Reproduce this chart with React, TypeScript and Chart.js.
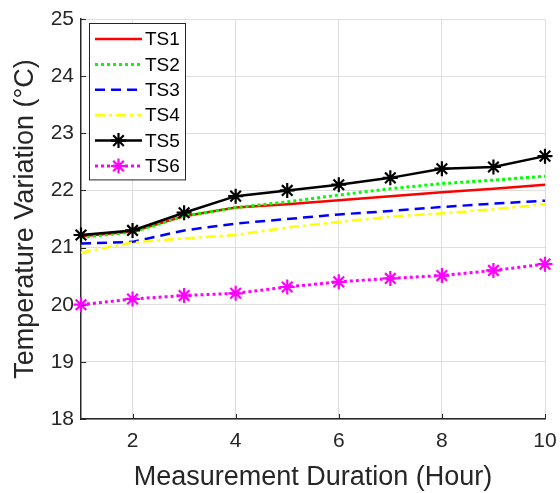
import { useEffect, useRef } from 'react';
import { Chart, registerables } from 'chart.js';

Chart.register(...registerables);

// Measurement hours and sensor temperatures (°C)
const hours = [1, 2, 3, 4, 5, 6, 7, 8, 9, 10];
const ts1 = [21.2, 21.28, 21.55, 21.7, 21.76, 21.83, 21.9, 21.97, 22.03, 22.1];
const ts2 = [21.18, 21.27, 21.55, 21.7, 21.8, 21.92, 22.03, 22.12, 22.18, 22.25];
const ts3 = [21.07, 21.1, 21.3, 21.42, 21.5, 21.58, 21.64, 21.71, 21.77, 21.82];
const ts4 = [20.91, 21.09, 21.16, 21.22, 21.35, 21.45, 21.54, 21.6, 21.67, 21.76];
const ts5 = [21.22, 21.3, 21.61, 21.9, 22.0, 22.1, 22.22, 22.38, 22.41, 22.6];
const ts6 = [20.0, 20.1, 20.16, 20.2, 20.31, 20.4, 20.46, 20.51, 20.6, 20.71];

const seriesLabels = ['TS1', 'TS2', 'TS3', 'TS4', 'TS5', 'TS6'];
const seriesValues = [ts1, ts2, ts3, ts4, ts5, ts6];

const xTickValues = [2, 4, 6, 8, 10];
const yTickValues = [18, 19, 20, 21, 22, 23, 24, 25];

const xTitle = 'Measurement Duration (Hour)';
const yTitle = 'Temperature Variation (°C)';

const FONT = '"Liberation Sans", Arial, Helvetica, sans-serif';
const INK = '#262626';
const GRID = '#dedede';

type SeriesStyle = { color: string; dash: number[]; width: number; marker: boolean };

const seriesStyles: SeriesStyle[] = [
  { color: '#ff0000', dash: [], width: 2.5, marker: false },
  { color: '#00ff00', dash: [3, 3], width: 3, marker: false },
  { color: '#0000ff', dash: [10, 6], width: 2.5, marker: false },
  { color: '#ffff00', dash: [10, 4, 3, 4], width: 2.5, marker: false },
  { color: '#000000', dash: [], width: 2.5, marker: true },
  { color: '#ff00ff', dash: [3, 3], width: 3, marker: true },
];

function drawStar(ctx: CanvasRenderingContext2D, x: number, y: number, r: number, color: string) {
  ctx.save();
  ctx.setLineDash([]);
  ctx.strokeStyle = color;
  ctx.lineWidth = 2.2;
  ctx.beginPath();
  for (let k = 0; k < 4; k++) {
    const a = (k * Math.PI) / 4;
    ctx.moveTo(x - r * Math.cos(a), y - r * Math.sin(a));
    ctx.lineTo(x + r * Math.cos(a), y + r * Math.sin(a));
  }
  ctx.stroke();
  ctx.restore();
}

// Short tick marks pointing into the plot area
const innerTicks = {
  id: 'innerTicks',
  afterDatasetsDraw(chart: any) {
    const { ctx, chartArea, scales } = chart;
    ctx.save();
    ctx.strokeStyle = INK;
    ctx.lineWidth = 1;
    ctx.beginPath();
    xTickValues.forEach((v) => {
      const px = Math.round(scales.x.getPixelForValue(v)) + 0.5;
      ctx.moveTo(px, chartArea.bottom);
      ctx.lineTo(px, chartArea.bottom - 5);
    });
    yTickValues.forEach((v) => {
      const py = Math.round(scales.y.getPixelForValue(v)) + 0.5;
      ctx.moveTo(chartArea.left, py);
      ctx.lineTo(chartArea.left + 5, py);
    });
    ctx.stroke();
    ctx.restore();
  },
};

// Boxed legend in the upper-left corner of the plot
const boxLegend = {
  id: 'boxLegend',
  afterDraw(chart: any) {
    const { ctx, chartArea } = chart;
    const left = chartArea.left + 8;
    const top = chartArea.top + 4;
    const w = 96;
    const rowH = 25.4;
    const h = rowH * seriesLabels.length + 4;
    ctx.save();
    ctx.fillStyle = '#ffffff';
    ctx.fillRect(left, top, w, h);
    ctx.strokeStyle = INK;
    ctx.lineWidth = 1;
    ctx.strokeRect(Math.round(left) + 0.5, Math.round(top) + 0.5, w, h);
    seriesLabels.forEach((label, i) => {
      const st = seriesStyles[i];
      const cy = top + 16 + i * rowH;
      const x0 = left + 6;
      const x1 = left + 53;
      ctx.save();
      ctx.strokeStyle = st.color;
      ctx.lineWidth = st.width;
      ctx.setLineDash(st.dash);
      ctx.beginPath();
      ctx.moveTo(x0, cy);
      ctx.lineTo(x1, cy);
      ctx.stroke();
      ctx.restore();
      if (st.marker) drawStar(ctx, (x0 + x1) / 2, cy, 7.5, st.color);
      ctx.fillStyle = '#000000';
      ctx.font = `19px ${FONT}`;
      ctx.textBaseline = 'middle';
      ctx.textAlign = 'left';
      ctx.fillText(label, left + 56, cy + 1);
    });
    ctx.restore();
  },
};

export default function App() {
  const canvasRef = useRef<HTMLCanvasElement | null>(null);

  useEffect(() => {
    const canvas = canvasRef.current;
    if (!canvas) return;

    const datasets = seriesLabels.map((label, i) => {
      const st = seriesStyles[i];
      return {
        label,
        data: hours.map((h, j) => ({ x: h, y: seriesValues[i][j] })),
        borderColor: st.color,
        backgroundColor: st.color,
        borderWidth: st.width,
        borderDash: st.dash,
        pointStyle: 'star' as const,
        pointRadius: st.marker ? 7.5 : 0,
        pointBorderWidth: 2.2,
        pointBorderColor: st.color,
        pointHoverRadius: st.marker ? 7.5 : 0,
        tension: 0,
        fill: false,
        clip: false as any,
        order: seriesLabels.length - i,
      };
    });

    const chart = new Chart(canvas, {
      type: 'line',
      data: { datasets },
      options: {
        responsive: false,
        animation: false,
        layout: { padding: { top: 19, right: 15, left: 0, bottom: 0 } },
        plugins: {
          legend: { display: false },
          tooltip: { enabled: false },
        },
        scales: {
          x: {
            type: 'linear',
            min: 1,
            max: 10,
            afterBuildTicks: (scale: any) => {
              scale.ticks = xTickValues.map((v) => ({ value: v }));
            },
            afterFit: (scale: any) => {
              scale.height = 74;
              scale.paddingLeft = 0;
              scale.paddingRight = 0;
            },
            grid: { color: GRID, lineWidth: 1, drawTicks: false },
            border: { color: INK, width: 1.5 },
            ticks: {
              color: INK,
              padding: 10,
              font: { family: FONT, size: 21 },
              callback: (v: any) => String(v),
            },
            title: {
              display: true,
              text: xTitle,
              color: INK,
              font: { family: FONT, size: 27, lineHeight: 1 },
              padding: { top: 0, bottom: 2 },
            },
          },
          y: {
            type: 'linear',
            min: 18,
            max: 25,
            afterBuildTicks: (scale: any) => {
              scale.ticks = yTickValues.map((v) => ({ value: v }));
            },
            afterFit: (scale: any) => {
              scale.width = 81;
              scale.paddingTop = 0;
              scale.paddingBottom = 0;
            },
            grid: { color: GRID, lineWidth: 1, drawTicks: false },
            border: { color: INK, width: 1.5 },
            ticks: {
              color: INK,
              padding: 7,
              font: { family: FONT, size: 21 },
              callback: (v: any) => String(v),
            },
            title: {
              display: true,
              text: yTitle,
              color: INK,
              font: { family: FONT, size: 27, lineHeight: 1 },
              padding: { top: 12, bottom: 0 },
            },
          },
        },
      },
      plugins: [innerTicks, boxLegend],
    });

    return () => chart.destroy();
  }, []);

  return (
    <div style={{ position: 'absolute', left: 0, top: 0, width: 560, height: 493, background: '#ffffff' }}>
      <canvas ref={canvasRef} width={560} height={493} style={{ display: 'block' }} />
    </div>
  );
}
